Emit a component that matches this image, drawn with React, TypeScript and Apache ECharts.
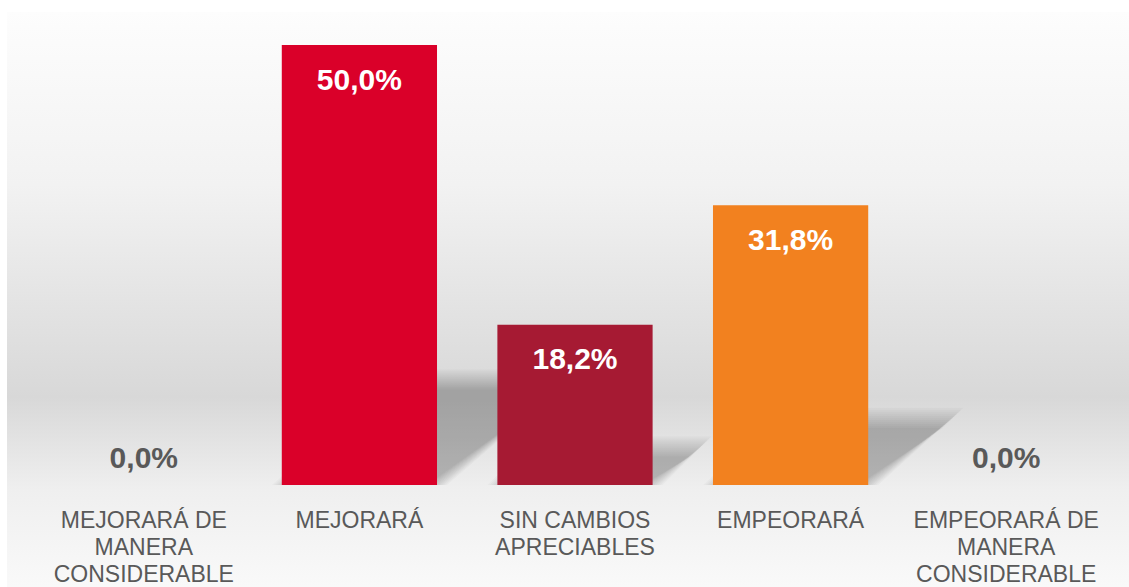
import React, { useEffect, useRef } from "react";
import * as echarts from "echarts";

const categories = [
  "MEJORARÁ DE\nMANERA\nCONSIDERABLE",
  "MEJORARÁ",
  "SIN CAMBIOS\nAPRECIABLES",
  "EMPEORARÁ",
  "EMPEORARÁ DE\nMANERA\nCONSIDERABLE",
];
const values = [0, 50, 18.2, 31.8, 0];
const barColors = ["#DA0029", "#DA0029", "#A61A33", "#F2811F", "#F2811F"];

const fmt = (v: number) => v.toFixed(1).replace(".", ",") + "%";

export default function App() {
  const ref = useRef<HTMLDivElement>(null);
  useEffect(() => {
    document.body.style.margin = "0";
    const chart = echarts.init(ref.current!, null, { renderer: "svg" });
    const font = "'Liberation Sans', Arial, Helvetica, sans-serif";
    chart.setOption({
      animation: false,
      graphic: [
        {
          type: "rect",
          z: -10,
          silent: true,
          shape: { x: 7, y: 12, width: 1122, height: 575 },
          style: {
            fill: new echarts.graphic.LinearGradient(0, 0, 0, 1, [
              { offset: 0, color: "#fdfdfd" },
              { offset: 0.3, color: "#f2f2f2" },
              { offset: 0.67, color: "#d8d8d8" },
              { offset: 0.83, color: "#efefef" },
              { offset: 1, color: "#f9f9f9" },
            ]),
          },
        },
      ],
      grid: { left: 36, right: 15, top: 45, bottom: 96, containLabel: false },
      xAxis: {
        type: "category",
        data: categories,
        axisLine: { show: false },
        axisTick: { show: false },
        axisLabel: {
          interval: 0,
          margin: 21,
          color: "#595959",
          fontSize: 23,
          lineHeight: 27,
          fontFamily: font,
          verticalAlign: "top",
        },
      },
      yAxis: {
        type: "value",
        min: 0,
        max: 50,
        show: false,
        splitLine: { show: false },
      },
      series: [
        {
          type: "custom",
          z: 1,
          silent: true,
          data: values.map((v, i) => [i, v]),
          renderItem: (params: any, api: any) => {
            const idx = api.value(0);
            const v = api.value(1);
            if (!v) return null;
            const base = api.coord([idx, 0]);
            const top = api.coord([idx, v]);
            const band = api.size([1, 0])[0];
            const w = band * 0.72;
            const barH = base[1] - top[1];
            const h = barH * 0.24;
            const dx = h * 1.27;
            const x0 = base[0] - w / 2;
            const x1 = base[0] + w / 2;
            const y0 = base[1];
            const children: any[] = [];
            for (let k = 0; k <= 10; k++) {
              const e = 10 - 2 * k;
              children.push({
                type: "polygon",
                shape: {
                  points: [
                    [x0 - e, y0],
                    [x1 + e, y0],
                    [x1 + dx + e, y0 - h - e],
                    [x0 + dx - e, y0 - h - e],
                  ],
                },
                style: { fill: "rgba(0,0,0,0.024)" },
              });
            }
            return { type: "group", children };
          },
        },
        {
          type: "bar",
          z: 2,
          barWidth: "72%",
          data: values.map((v, i) => ({
            value: v,
            itemStyle: { color: barColors[i] },
            label:
              v > 0
                ? { position: "insideTop", distance: 19, color: "#ffffff" }
                : { position: "top", distance: 13, color: "#595959" },
          })),
          label: {
            show: true,
            fontSize: 30,
            fontWeight: "bold",
            fontFamily: font,
            formatter: (p: any) => fmt(p.value),
          },
        },
      ],
    });
    return () => chart.dispose();
  }, []);
  return <div ref={ref} style={{ width: 1129, height: 587 }} />;
}
